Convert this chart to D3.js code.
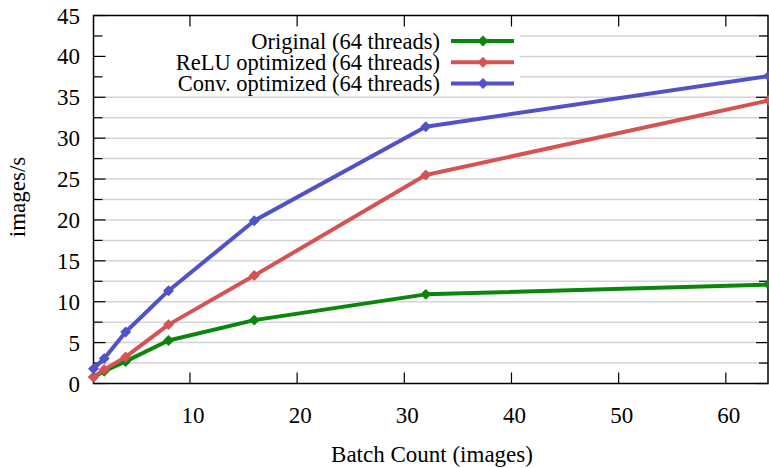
<!DOCTYPE html>
<html>
  <head>
    <script src="https://cdnjs.cloudflare.com/ajax/libs/d3/7.8.5/d3.min.js"></script>
    <style>
      body { margin: 0; background: #fff; }
    </style>
  </head>
  <body>
    <svg width="769" height="468"></svg>
    <script>
      const batch = [1, 2, 4, 8, 16, 32, 64];
      const original = [0.8, 1.5, 2.7, 5.25, 7.75, 10.9, 12.1];
      const relu = [0.8, 1.7, 3.25, 7.2, 13.2, 25.5, 34.6];
      const conv = [1.8, 3.05, 6.3, 11.35, 19.9, 31.4, 37.6];
      const seriesNames = ["Original (64 threads)", "ReLU optimized (64 threads)", "Conv. optimized (64 threads)"];
      const colors = ["#0a870a", "#d65353", "#5151c9"];
      const xTicks = [10, 20, 30, 40, 50, 60];
      const yTicks = [0, 5, 10, 15, 20, 25, 30, 35, 40, 45];

      const FONT = '"Liberation Serif"';
      const svg = d3.select("svg");
      const mLeft = 93.5, mRight = 768, mTop = 15.5, mBottom = 383.5;
      const x = d3.scaleLinear().domain([1, 64]).range([mLeft, 768.7]);
      const y = d3.scaleLinear().domain([0, 45]).range([mBottom, mTop]);

      // grid every 2.5
      const minor = d3.range(2.5, 45, 2.5);
      svg.append("g").selectAll("line").data(minor).join("line")
        .attr("x1", mLeft).attr("x2", mRight)
        .attr("y1", d => y(d)).attr("y2", d => y(d))
        .attr("stroke", "#d4d4d4").attr("stroke-width", 1.5);

      // legend box hides the grid behind it
      svg.append("rect").attr("x", mLeft + 1).attr("y", mTop + 1)
        .attr("width", 520 - mLeft - 1).attr("height", 92 - mTop - 1).attr("fill", "#fff");

      // ticks
      const tk = svg.append("g").attr("stroke", "#000").attr("stroke-width", 1.2);
      minor.concat([0, 45]).forEach(v => {
        const len = v % 5 === 0 ? 12 : 9;
        tk.append("line").attr("x1", mLeft).attr("x2", mLeft + len).attr("y1", y(v)).attr("y2", y(v));
        tk.append("line").attr("x1", mRight).attr("x2", mRight - len).attr("y1", y(v)).attr("y2", y(v));
      });
      xTicks.forEach(v => {
        tk.append("line").attr("x1", x(v)).attr("x2", x(v)).attr("y1", mBottom).attr("y2", mBottom - 11);
        tk.append("line").attr("x1", x(v)).attr("x2", x(v)).attr("y1", mTop).attr("y2", mTop + 11);
      });

      svg.append("rect").attr("x", mLeft).attr("y", mTop)
        .attr("width", mRight - mLeft).attr("height", mBottom - mTop)
        .attr("fill", "none").attr("stroke", "#000").attr("stroke-width", 1.5);

      // tick labels
      svg.append("g").selectAll("text").data(yTicks).join("text")
        .attr("x", 80).attr("y", d => y(d)).attr("dy", "0.35em")
        .attr("text-anchor", "end").attr("font-size", 23).text(d => d);
      svg.append("g").selectAll("text").data(xTicks).join("text")
        .attr("x", d => x(d) + 3).attr("y", 423)
        .attr("text-anchor", "middle").attr("font-size", 23).text(d => d);

      svg.append("text").attr("x", 432).attr("y", 462).attr("text-anchor", "middle")
        .attr("font-size", 23).text("Batch Count (images)");
      svg.append("text").attr("transform", "translate(25,197) rotate(-90)")
        .attr("text-anchor", "middle").attr("font-size", 23).text("images/s");

      const diamond = d3.symbol().type(d3.symbolSquare).size(60);
      const line = d3.line().x((d, i) => x(batch[i])).y(d => y(d));
      [original, relu, conv].forEach((vals, k) => {
        const g = svg.append("g");
        g.append("path").datum(vals).attr("d", line)
          .attr("fill", "none").attr("stroke", colors[k]).attr("stroke-width", 4)
          .attr("stroke-linejoin", "round");
        g.selectAll("path.m").data(vals).join("path").attr("class", "m")
          .attr("transform", (d, i) => `translate(${x(batch[i])},${y(d)}) rotate(45)`)
          .attr("d", diamond).attr("fill", colors[k]);

        const ly = 41 + k * 21.3;
        svg.append("text").attr("x", 440).attr("y", ly).attr("dy", "0.35em")
          .attr("text-anchor", "end").attr("font-size", 22.5).text(seriesNames[k]);
        svg.append("line").attr("x1", 451).attr("x2", 514).attr("y1", ly).attr("y2", ly)
          .attr("stroke", colors[k]).attr("stroke-width", 4);
        svg.append("path").attr("transform", `translate(483,${ly}) rotate(45)`)
          .attr("d", diamond).attr("fill", colors[k]);
      });

      svg.selectAll("text").style("font-family", FONT).attr("fill", "#000");
    </script>
  </body>
</html>
